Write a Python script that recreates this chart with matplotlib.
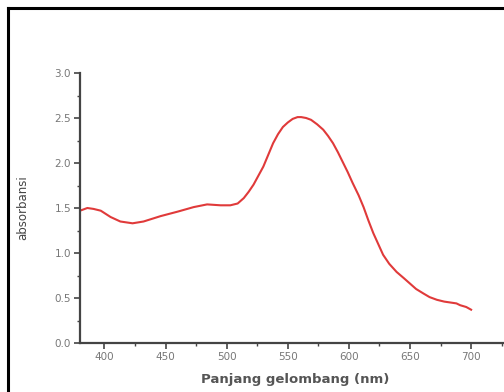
import matplotlib.pyplot as plt
from matplotlib.lines import Line2D
from matplotlib.ticker import MultipleLocator

# wavelength (nm) and absorbance
wavelength = [378, 386, 391, 397, 405, 413, 423, 432, 446, 460, 473, 484, 495,
              503, 509, 514, 518, 522, 526, 530, 534, 538, 542, 546, 550, 554,
              558, 561, 565, 569, 574, 579, 583, 587, 591, 595, 599, 603, 608,
              612, 616, 620, 624, 628, 633, 639, 645, 650, 655, 661, 666, 672,
              678, 683, 688, 691, 696, 700]
absorbansi = [1.46, 1.50, 1.49, 1.47, 1.40, 1.35, 1.33, 1.35, 1.41, 1.46, 1.51,
              1.54, 1.53, 1.53, 1.55, 1.61, 1.68, 1.76, 1.86, 1.96, 2.09, 2.22,
              2.32, 2.40, 2.45, 2.49, 2.51, 2.51, 2.50, 2.48, 2.43, 2.37, 2.30,
              2.22, 2.12, 2.01, 1.90, 1.78, 1.64, 1.51, 1.36, 1.22, 1.10, 0.98,
              0.88, 0.79, 0.72, 0.66, 0.60, 0.55, 0.51, 0.48, 0.46, 0.45, 0.44,
              0.42, 0.40, 0.37]

xticks = [400, 450, 500, 550, 600, 650, 700]
yticks = [0.0, 0.5, 1.0, 1.5, 2.0, 2.5, 3.0]

fig = plt.figure(figsize=(5.04, 3.92), dpi=100)
ax = fig.add_axes([80/504, 49/392, 440/504, 270/392])

ax.plot(wavelength, absorbansi, color='#e03a3a', lw=1.5, solid_joinstyle='round')

ax.set_xlim(380, 740)
ax.set_ylim(0, 3.0)
ax.set_xticks(xticks)
ax.set_yticks(yticks)
ax.set_yticklabels([f"{v:.1f}" for v in yticks])
ax.xaxis.set_minor_locator(MultipleLocator(25))
ax.yaxis.set_minor_locator(MultipleLocator(0.25))

for s in ['top', 'right']:
    ax.spines[s].set_visible(False)
for s in ['left', 'bottom']:
    ax.spines[s].set_color('#444444')
    ax.spines[s].set_linewidth(1.6)

ax.tick_params(which='major', direction='out', length=4, width=1.2,
               color='#444444', labelcolor='#777777', labelsize=7.5, pad=2.5)
ax.tick_params(which='minor', direction='out', length=2.5, width=1,
               color='#444444')

ax.set_xlabel('Panjang gelombang (nm)', fontsize=9.5, fontweight='bold',
              color='#555555')
ax.set_ylabel('absorbansi', fontsize=8.5, color='#444444')
ax.xaxis.set_label_coords((295 - 80) / 440, -30 / 270)
ax.yaxis.set_label_coords(-51 / 440, 0.5)

# screenshot frame (left and top edges)
fig.add_artist(Line2D([8/504, 8/504], [0, 1 - 8/392], transform=fig.transFigure,
                      color='black', lw=2.2))
fig.add_artist(Line2D([8/504, 1], [1 - 8/392, 1 - 8/392], transform=fig.transFigure,
                      color='black', lw=2.2))

fig.savefig('out.png', dpi=100)
